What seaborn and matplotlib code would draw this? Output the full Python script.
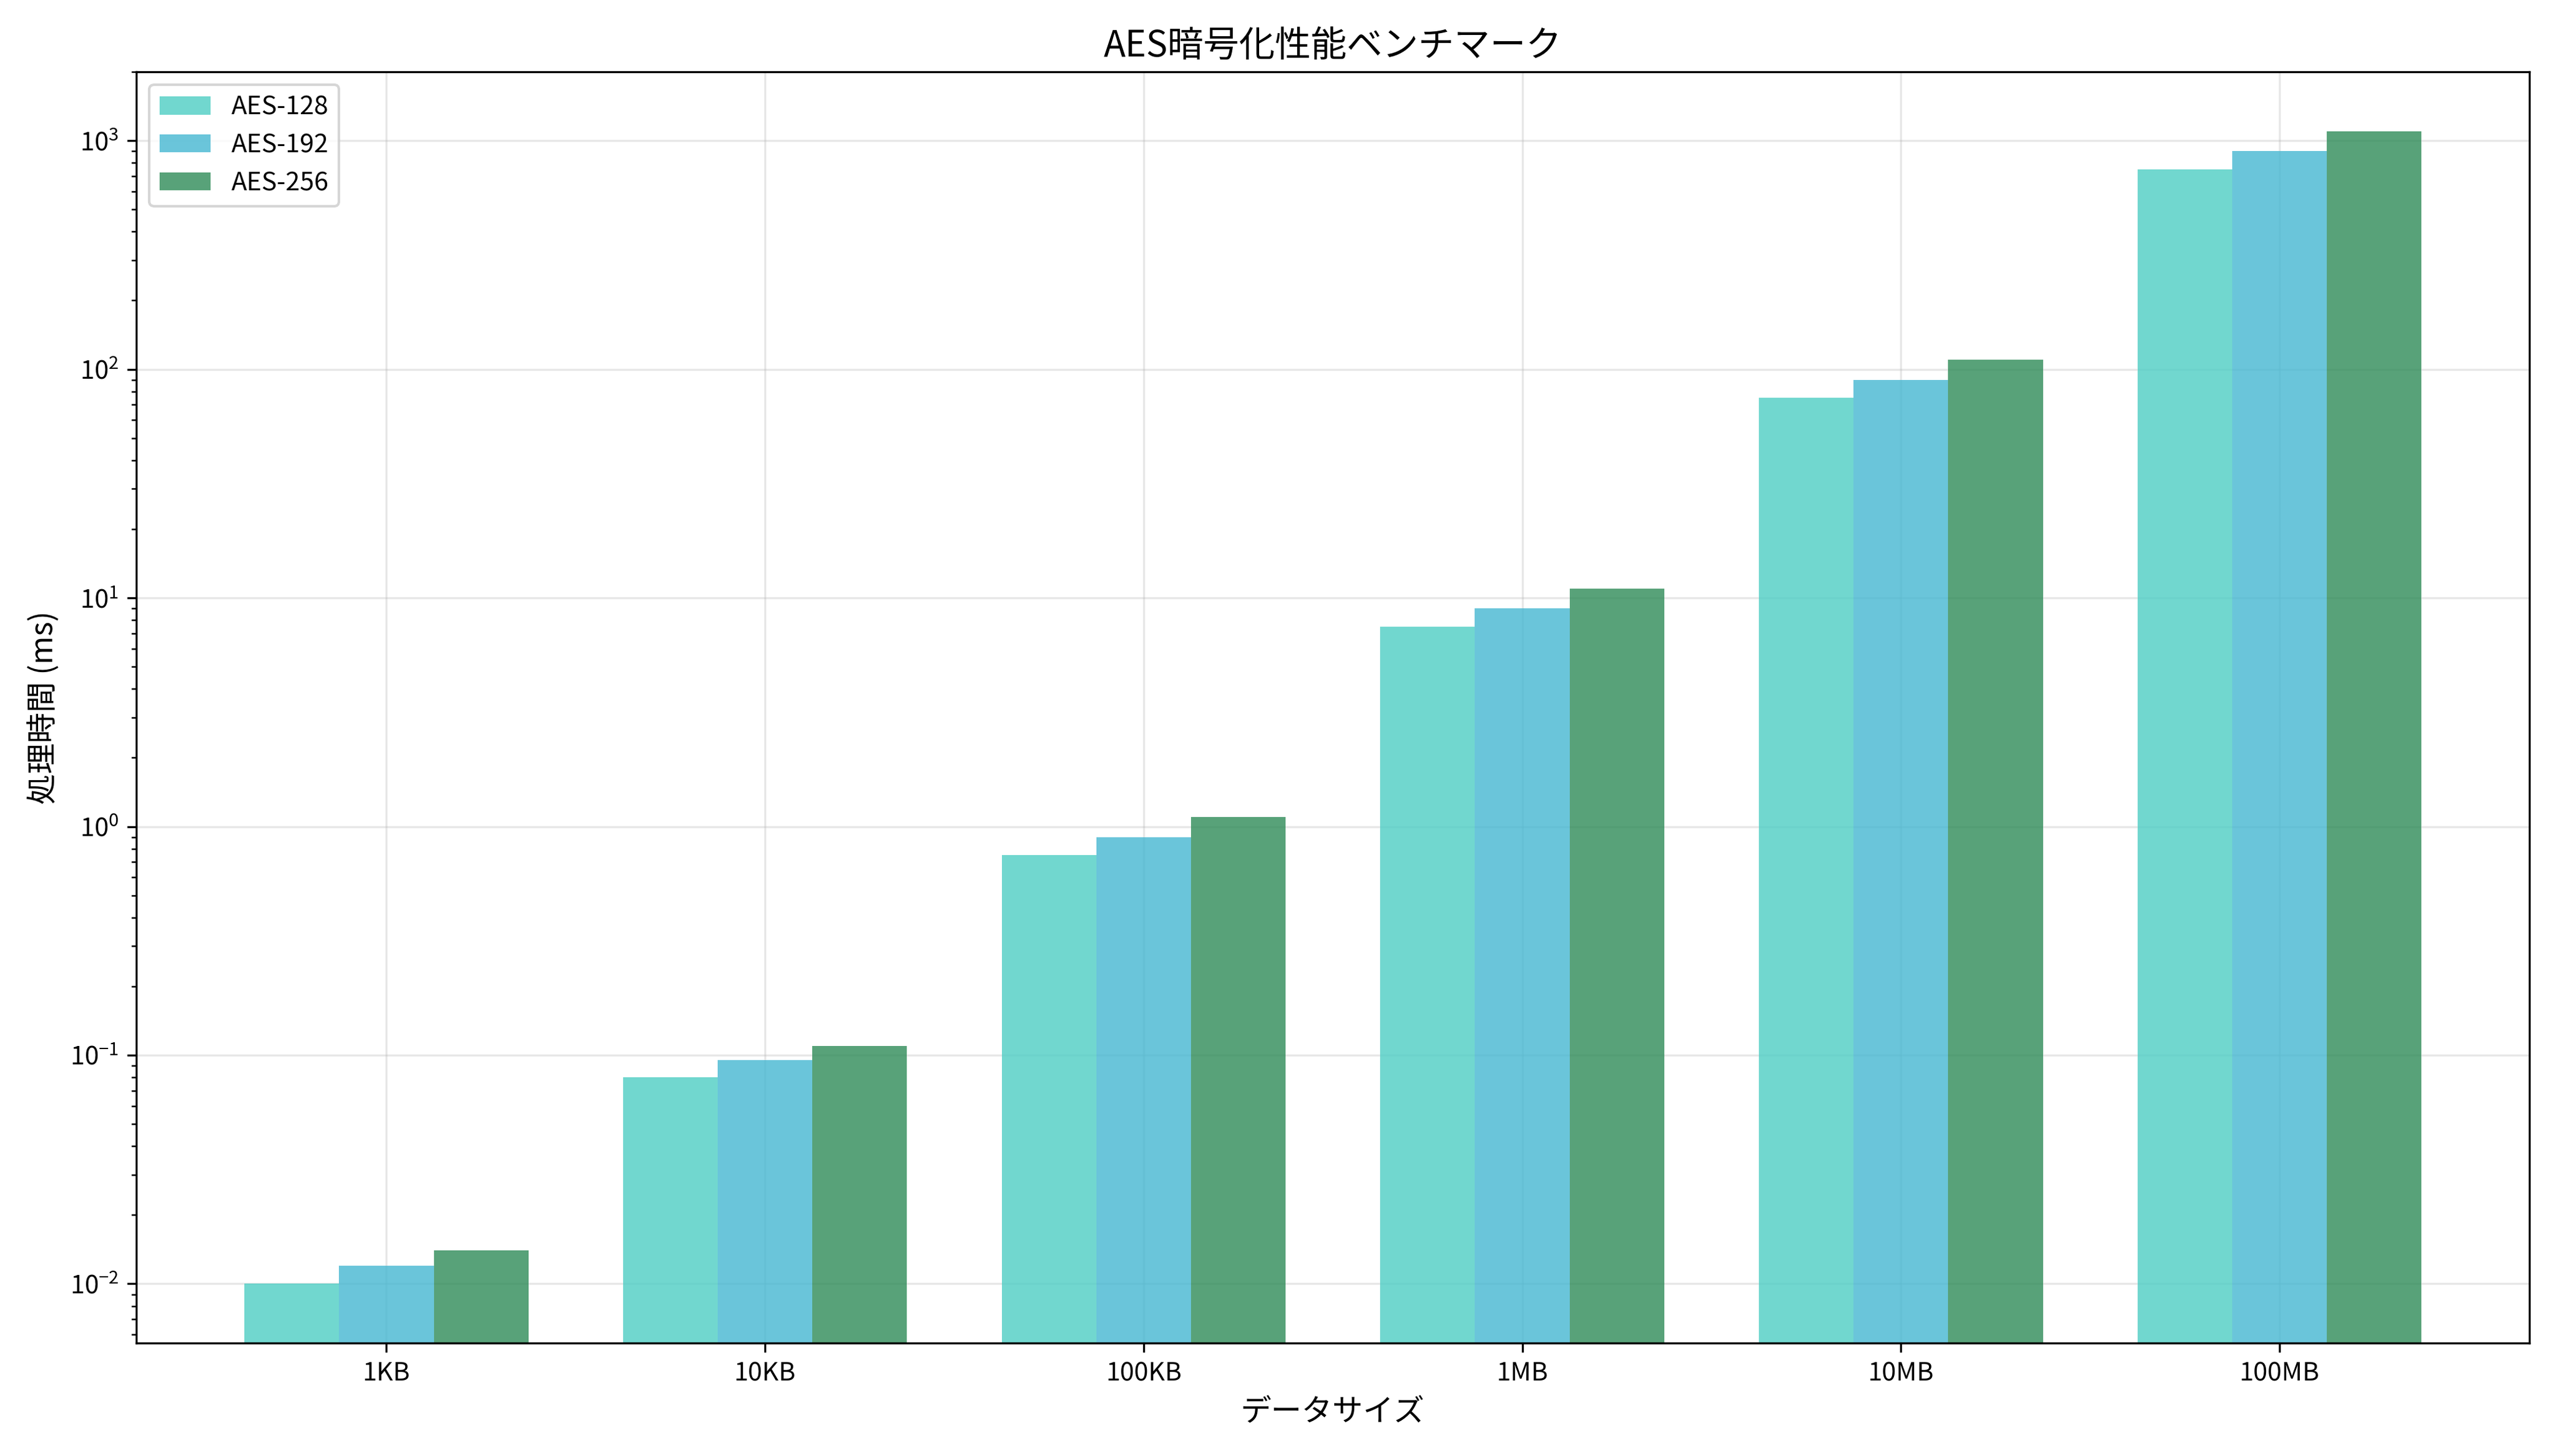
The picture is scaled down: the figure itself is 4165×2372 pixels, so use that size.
import matplotlib
matplotlib.use("Agg")
import matplotlib.pyplot as plt
import seaborn as sns
import pandas as pd

plt.rcParams["font.family"] = ["Noto Sans CJK JP", "DejaVu Sans"]

sizes = ["1KB", "10KB", "100KB", "1MB", "10MB", "100MB"]
aes128 = [0.010, 0.080, 0.75, 7.5, 75, 750]
aes192 = [0.012, 0.095, 0.90, 9.0, 90, 900]
aes256 = [0.014, 0.110, 1.10, 11.0, 110, 1100]
series = ["AES-128", "AES-192", "AES-256"]
colors = ["#4ECDC4", "#45B7D1", "#2E8B57"]

rows = []
for name, vals in zip(series, [aes128, aes192, aes256]):
    for s, v in zip(sizes, vals):
        rows.append({"size": s, "alg": name, "time": v})
df = pd.DataFrame(rows)

fig, ax = plt.subplots(figsize=(4165/300, 2372/300), dpi=300)
sns.barplot(data=df, x="size", y="time", hue="alg", palette=colors, alpha=0.8,
            saturation=1, width=0.75, ax=ax, order=sizes, hue_order=series)
ax.set_yscale("log")
ax.set_ylim(0.0055, 2000)
ax.set_xlim(-0.66, 5.66)
ax.grid(True, alpha=0.3)
ax.set_axisbelow(True)
ax.set_title("AES暗号化性能ベンチマーク", fontsize=14)
ax.set_xlabel("データサイズ", fontsize=12)
ax.set_ylabel("処理時間 (ms)", fontsize=12)
ax.legend(title=None, loc="upper left")
fig.tight_layout()
fig.savefig("out.png", dpi=300)
